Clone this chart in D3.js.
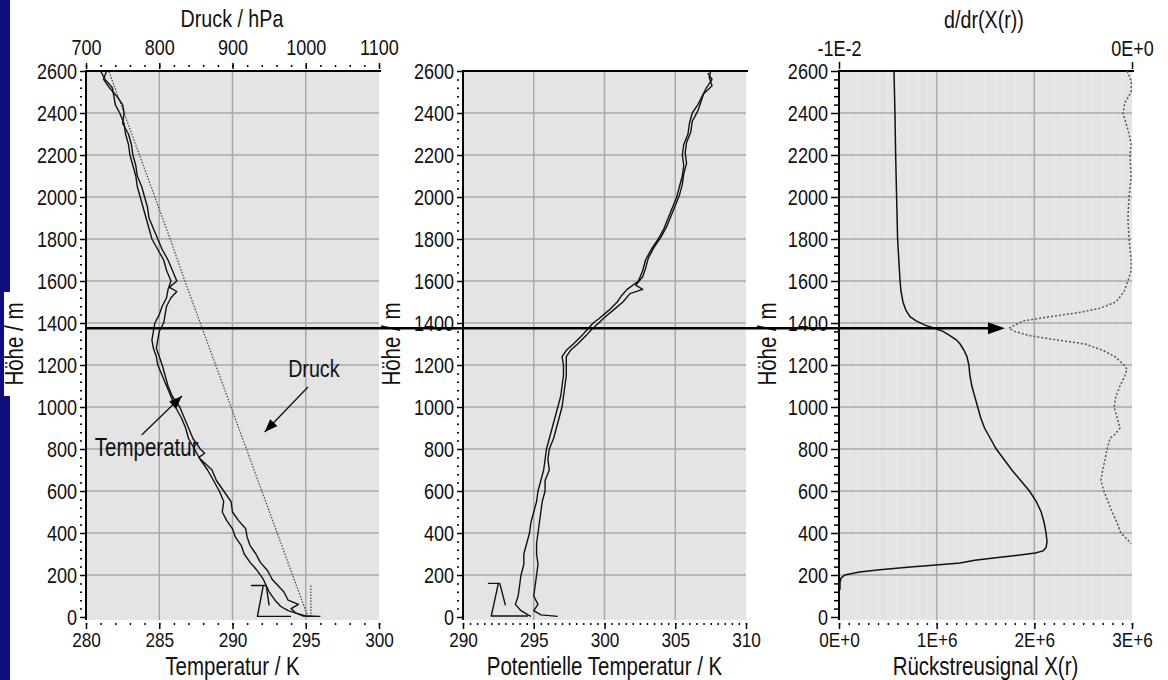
<!DOCTYPE html>
<html>
<head>
<meta charset="utf-8">
<script src="https://cdn.jsdelivr.net/npm/d3@7"></script>
<style>
  body { margin: 0; background: #fff; }
  svg text { font-family: "Liberation Sans", Arial, sans-serif; fill: #111; }
</style>
</head>
<body>
<svg id="chart" width="1168" height="680"></svg>
<script>
var heightTicks = [0, 200, 400, 600, 800, 1000, 1200, 1400, 1600, 1800, 2000, 2200, 2400, 2600];
var tempTicks = [280, 285, 290, 295, 300];
var pressureTicks = [700, 800, 900, 1000, 1100];
var thetaTicks = [290, 295, 300, 305, 310];
var signalTicks = [0, 1e6, 2e6, 3e6];
var signalTickLabels = ['0E+0', '1E+6', '2E+6', '3E+6'];
var derivTicks = [-0.01, 0];
var derivTickLabels = ['-1E-2', '0E+0'];

// [height m, temperature K]
var tempAscent = [
  [2600, 281.0], [2560, 281.3], [2520, 281.8], [2480, 281.9], [2440, 282.0], [2400, 282.3],
  [2350, 282.6], [2300, 282.7], [2250, 282.9], [2200, 283.0], [2150, 283.2], [2100, 283.4],
  [2050, 283.5], [2000, 283.7], [1950, 283.9], [1900, 284.1], [1850, 284.3], [1800, 284.5],
  [1750, 284.9], [1700, 285.3], [1650, 285.5], [1600, 285.8], [1560, 285.6], [1520, 285.5],
  [1480, 285.2], [1440, 285.0], [1400, 284.7], [1360, 284.6], [1320, 284.5], [1280, 284.6],
  [1240, 284.8], [1200, 284.9], [1150, 285.2], [1100, 285.5], [1050, 285.8], [1000, 286.1],
  [950, 286.5], [900, 286.8], [850, 287.0], [800, 287.4], [750, 287.8], [700, 288.3],
  [650, 288.7], [600, 289.1], [550, 289.4], [500, 289.3], [460, 289.6], [420, 290.0],
  [380, 290.2], [340, 290.6], [300, 290.8], [260, 291.2], [220, 291.7], [180, 292.1],
  [150, 292.3], [120, 292.5], [80, 292.9], [50, 293.3], [30, 293.8], [15, 294.5],
  [5, 295.0], [3, 295.5]
];
var tempDescent = [
  [2600, 281.4], [2560, 281.2], [2520, 281.6], [2480, 282.1], [2440, 282.5], [2400, 282.6],
  [2350, 282.5], [2300, 282.9], [2250, 283.1], [2200, 283.2], [2150, 283.4], [2100, 283.5],
  [2050, 283.8], [2000, 284.0], [1950, 284.2], [1900, 284.3], [1850, 284.6], [1800, 284.9],
  [1750, 285.2], [1700, 285.6], [1650, 285.9], [1600, 286.2], [1570, 285.7], [1550, 286.2],
  [1520, 285.8], [1480, 285.5], [1440, 285.4], [1400, 285.3], [1360, 285.0], [1320, 284.9],
  [1280, 284.8], [1240, 285.0], [1200, 285.2], [1150, 285.4], [1100, 285.6], [1050, 285.9],
  [1000, 286.4], [950, 286.7], [900, 287.0], [850, 287.3], [800, 287.8], [780, 288.1],
  [760, 287.7], [720, 288.3], [700, 288.6], [650, 288.9], [600, 289.4], [550, 289.9],
  [500, 290.0], [460, 290.4], [420, 290.9], [380, 291.0], [340, 291.2], [300, 291.6],
  [260, 291.9], [220, 292.4], [180, 292.7], [150, 293.1], [120, 293.5], [80, 293.8],
  [60, 294.5], [40, 294.0], [20, 294.3], [5, 294.8], [3, 296.0]
];
var tempGround = [[55, 292.5], [150, 292.3], [150, 291.3], [150, 292.1], [3, 291.7], [3, 294.0]];

// [height m, pressure hPa]
var pressure = [
  [0, 1003], [200, 982], [400, 961], [600, 940], [800, 919], [1000, 898], [1200, 877],
  [1400, 856], [1600, 835], [1800, 815], [2000, 794], [2200, 773], [2400, 752], [2600, 731]
];
var pressureGround = [[0, 1007], [150, 1007]];

// [height m, potential temperature K]
var thetaAscent = [
  [2590, 307.3], [2560, 307.6], [2520, 307.2], [2480, 306.9], [2440, 306.6], [2400, 306.2],
  [2350, 306.0], [2300, 305.9], [2250, 305.6], [2200, 305.5], [2150, 305.6], [2100, 305.5],
  [2050, 305.3], [2000, 305.1], [1950, 304.8], [1900, 304.5], [1850, 304.2], [1800, 303.8],
  [1750, 303.3], [1700, 302.9], [1650, 302.7], [1600, 302.4], [1560, 301.6], [1530, 301.2],
  [1500, 300.9], [1460, 300.3], [1420, 299.6], [1400, 299.2], [1370, 298.8], [1340, 298.4],
  [1300, 297.8], [1270, 297.3], [1240, 297.0], [1200, 297.1], [1150, 297.1], [1100, 297.0],
  [1050, 296.9], [1000, 296.7], [950, 296.5], [900, 296.3], [850, 296.1], [800, 295.9],
  [750, 295.8], [700, 295.7], [650, 295.5], [600, 295.3], [550, 295.2], [500, 295.0],
  [450, 294.8], [400, 294.7], [350, 294.5], [300, 294.3], [250, 294.3], [200, 294.1],
  [150, 294.0], [100, 293.9], [60, 293.7], [30, 294.1], [10, 294.6], [3, 294.8]
];
var thetaDescent = [
  [2600, 307.5], [2570, 307.4], [2530, 307.6], [2490, 307.0], [2450, 306.8], [2410, 306.6],
  [2360, 306.2], [2310, 306.1], [2260, 305.8], [2210, 305.7], [2160, 305.8], [2110, 305.6],
  [2060, 305.5], [2010, 305.3], [1960, 305.0], [1910, 304.7], [1860, 304.4], [1810, 304.0],
  [1760, 303.5], [1710, 303.1], [1660, 302.9], [1620, 302.7], [1580, 302.2], [1560, 302.7],
  [1540, 301.8], [1500, 301.3], [1460, 300.6], [1420, 299.9], [1400, 299.6], [1370, 299.1],
  [1340, 298.7], [1300, 298.1], [1270, 297.6], [1240, 297.3], [1200, 297.3], [1150, 297.3],
  [1100, 297.2], [1050, 297.1], [1000, 297.0], [950, 296.8], [900, 296.6], [850, 296.4],
  [800, 296.1], [750, 296.0], [700, 296.1], [650, 295.8], [600, 295.8], [550, 295.6],
  [500, 295.5], [450, 295.4], [400, 295.3], [350, 295.2], [300, 295.2], [250, 295.3],
  [200, 295.2], [150, 295.1], [100, 295.0], [60, 295.3], [30, 295.0], [10, 295.5], [3, 296.7]
];
var thetaGround = [[55, 293.0], [160, 292.6], [160, 291.8], [160, 292.5], [5, 292.0], [5, 294.6]];

// [height m, backscatter signal X(r)]
var signal = [
  [2600, 0.563e6], [2400, 0.573e6], [2200, 0.58e6], [2000, 0.59e6], [1800, 0.60e6],
  [1600, 0.625e6], [1550, 0.635e6], [1500, 0.655e6], [1460, 0.686e6], [1430, 0.727e6],
  [1410, 0.79e6], [1390, 0.88e6], [1375, 0.98e6], [1360, 1.065e6], [1340, 1.136e6],
  [1320, 1.20e6], [1300, 1.24e6], [1270, 1.28e6], [1240, 1.31e6], [1200, 1.33e6],
  [1150, 1.34e6], [1100, 1.36e6], [1050, 1.39e6], [1000, 1.42e6], [950, 1.45e6],
  [900, 1.49e6], [850, 1.55e6], [800, 1.61e6], [750, 1.69e6], [700, 1.77e6],
  [650, 1.86e6], [600, 1.95e6], [550, 2.02e6], [500, 2.07e6], [450, 2.10e6],
  [400, 2.12e6], [360, 2.13e6], [330, 2.12e6], [315, 2.09e6], [305, 2.01e6],
  [295, 1.85e6], [285, 1.65e6], [270, 1.39e6], [257, 1.24e6], [245, 0.93e6],
  [238, 0.73e6], [225, 0.42e6], [214, 0.21e6], [205, 0.11e6], [200, 0.06e6],
  [185, 0.02e6], [162, 0.01e6], [130, 0.01e6]
];
// [height m, d/dr X(r)]
var signalDeriv = [
  [2600, -0.00017], [2550, -0.00002], [2500, -0.00003], [2450, -0.00024], [2400, -0.00031],
  [2350, -0.0002], [2300, -0.0001], [2250, -0.00003], [2200, -0.00007], [2100, -0.00003],
  [2000, -0.0001], [1900, -0.00014], [1800, -0.0001], [1700, -0.00003], [1650, -0.00003],
  [1600, -0.00014], [1550, -0.00027], [1500, -0.00055], [1470, -0.0011], [1450, -0.0018],
  [1430, -0.0028], [1410, -0.0037], [1390, -0.0040], [1375, -0.0042], [1360, -0.0040],
  [1340, -0.0035], [1320, -0.0026], [1300, -0.0016], [1270, -0.0010], [1240, -0.00058],
  [1200, -0.00027], [1180, -0.00017], [1150, -0.00024], [1100, -0.00041], [1050, -0.00055],
  [1000, -0.00061], [950, -0.00051], [900, -0.00041], [870, -0.00058], [850, -0.00075],
  [800, -0.00085], [750, -0.00092], [700, -0.0010], [650, -0.00106], [600, -0.00096],
  [550, -0.00082], [500, -0.00068], [450, -0.00051], [400, -0.00038], [370, -0.00017],
  [350, -0.00003]
];
var inversionHeight = 1375;
var inversionDeriv = -0.0042;

// the original lettering is a narrow Helvetica; squeeze Liberation Sans to match
var NARROW = 0.82;

var svg = d3.select('#chart');
var y = d3.scaleLinear().domain([0, 2600]).range([617, 71]);
var plotTop = y(2600);
var plotBottom = y(0) + 3;

var tempX = d3.scaleLinear().domain([280, 300]).range([86, 379]);
var pressX = d3.scaleLinear().domain([700, 1100]).range([86, 379]);
var thetaX = d3.scaleLinear().domain([290, 310]).range([463, 746]);
var signalX = d3.scaleLinear().domain([0, 3e6]).range([839, 1132]);
var derivX = d3.scaleLinear().domain([-0.01, 0]).range([839, 1132]);

// blue slide edge
svg.append('rect').attr('x', 0).attr('y', 0).attr('width', 10).attr('height', 680)
    .attr('fill', '#0e0e7e');
svg.append('rect').attr('x', 4).attr('y', 292).attr('width', 6).attr('height', 104)
    .attr('fill', '#fff');

function condense(sel) {
  sel.each(function() {
    var t = d3.select(this);
    var tx = +t.attr('x') || 0;
    var prev = t.attr('transform') || '';
    t.attr('x', tx / NARROW).attr('transform', prev + ' scale(' + NARROW + ',1)');
  });
}

function styleAxis(sel, size) {
  sel.attr('font-family', null).attr('font-size', null);
  sel.select('.domain').remove();
  sel.selectAll('.tick line').attr('stroke', '#000').attr('stroke-width', 1.5);
  sel.selectAll('.tick text').attr('fill', '#111').style('font-size', size + 'px');
  condense(sel.selectAll('.tick text'));
}

function drawPanel(x, opts) {
  var x0 = x.range()[0], x1 = x.range()[1];
  var g = svg.append('g');
  g.append('rect')
      .attr('x', x0).attr('y', plotTop)
      .attr('width', x1 - x0).attr('height', plotBottom - plotTop)
      .attr('fill', '#e4e4e4');

  if (opts.stripes) {
    g.selectAll('.stripe').data(opts.stripes).enter().append('line')
        .attr('x1', function(d) { return x(d); })
        .attr('x2', function(d) { return x(d); })
        .attr('y1', plotTop).attr('y2', plotBottom)
        .attr('stroke', '#e9e9e9').attr('stroke-width', 1);
  }

  g.selectAll('.hgrid').data(heightTicks.slice(1, -1)).enter().append('line')
      .attr('x1', x0).attr('x2', x1)
      .attr('y1', function(d) { return y(d); })
      .attr('y2', function(d) { return y(d); })
      .attr('stroke', '#a9a9a9').attr('stroke-width', 1.5);
  g.selectAll('.vgrid').data(opts.grid).enter().append('line')
      .attr('x1', function(d) { return x(d); })
      .attr('x2', function(d) { return x(d); })
      .attr('y1', plotTop).attr('y2', plotBottom)
      .attr('stroke', '#a9a9a9').attr('stroke-width', 1.5);

  // left height axis
  var minorHeights = d3.range(0, 2601, 40).filter(function(d) { return d % 200 !== 0; });
  var major = g.append('g').attr('transform', 'translate(' + x0 + ',0)')
      .call(d3.axisLeft(y).tickValues(heightTicks).tickSize(opts.majorLen).tickPadding(3)
          .tickFormat(d3.format('d')));
  styleAxis(major, 22);
  var minor = g.append('g').attr('transform', 'translate(' + (x0 - opts.minorGap) + ',0)')
      .call(d3.axisLeft(y).tickValues(minorHeights).tickSize(opts.minorLen).tickFormat(''));
  styleAxis(minor, 22);
  g.append('line').attr('x1', x0).attr('x2', x0).attr('y1', plotTop - 1).attr('y2', plotBottom)
      .attr('stroke', '#000').attr('stroke-width', 2);

  // top border
  g.append('line').attr('x1', x0).attr('x2', x1 + 2).attr('y1', plotTop).attr('y2', plotTop)
      .attr('stroke', '#000').attr('stroke-width', 2);

  // bottom axis
  var bottom = g.append('g').attr('transform', 'translate(0,' + (plotBottom + 3) + ')')
      .call(d3.axisBottom(x).tickValues(opts.ticks).tickSize(6).tickPadding(3)
          .tickFormat(opts.tickFormat || d3.format('d')));
  styleAxis(bottom, 21);
  var bottomMinor = g.append('g').attr('transform', 'translate(0,' + (plotBottom + 3) + ')')
      .call(d3.axisBottom(x).tickValues(opts.minorTicks).tickSize(2).tickFormat(''));
  styleAxis(bottomMinor, 21);

  g.append('text')
      .attr('transform', 'translate(' + (x0 - 63) + ',344) rotate(-90)')
      .attr('text-anchor', 'middle').style('font-size', '25px')
      .text('Höhe / m')
      .call(condense);
  g.append('text')
      .attr('x', (x0 + x1) / 2).attr('y', 675)
      .attr('text-anchor', 'middle').style('font-size', '25px')
      .text(opts.title)
      .call(condense);
  return g;
}

function profile(x) {
  return d3.line()
      .x(function(d) { return x(d[1]); })
      .y(function(d) { return y(d[0]); });
}

function arrowHead(g, xa, ya, xb, yb, len, half) {
  var ang = Math.atan2(yb - ya, xb - xa);
  var c = Math.cos(ang), s = Math.sin(ang);
  var pts = [
    [xb, yb],
    [xb - len * c + half * s, yb - len * s - half * c],
    [xb - len * c - half * s, yb - len * s + half * c]
  ];
  g.append('polygon').attr('points', pts.map(function(p) { return p.join(','); }).join(' '))
      .attr('fill', '#000');
}

// ---- panel 1: temperature and pressure
var p1 = drawPanel(tempX, {
  grid: [285, 290, 295],
  ticks: tempTicks,
  minorTicks: d3.range(280, 300.01, 1),
  majorLen: 6, minorLen: 2, minorGap: 4,
  title: 'Temperatur / K'
});
var top1 = p1.append('g').attr('transform', 'translate(0,' + (plotTop - 2) + ')')
    .call(d3.axisTop(pressX).tickValues(pressureTicks).tickSize(6).tickPadding(8)
        .tickFormat(d3.format('d')));
styleAxis(top1, 22);
var top1Minor = p1.append('g').attr('transform', 'translate(0,' + (plotTop - 4) + ')')
    .call(d3.axisTop(pressX).tickValues(d3.range(700, 1100.1, 20)).tickSize(2).tickFormat(''));
styleAxis(top1Minor, 22);
p1.append('text').attr('x', 232).attr('y', 27).attr('text-anchor', 'middle')
    .style('font-size', '24px').text('Druck / hPa').call(condense);

var pressLine = d3.line()
    .x(function(d) { return pressX(d[1]); })
    .y(function(d) { return y(d[0]); });
[pressure, pressureGround].forEach(function(s) {
  p1.append('path').datum(s).attr('d', pressLine).attr('fill', 'none')
      .attr('stroke', '#444').attr('stroke-width', 1.2).attr('stroke-dasharray', '1.5,1.5');
});
[tempAscent, tempDescent, tempGround].forEach(function(s) {
  p1.append('path').datum(s).attr('d', profile(tempX)).attr('fill', 'none')
      .attr('stroke', '#111').attr('stroke-width', 1.4).attr('stroke-linejoin', 'round');
});

// annotations
p1.append('text').attr('x', tempX(293.8)).attr('y', y(1143)).style('font-size', '24px')
    .text('Druck').call(condense);
p1.append('line').attr('x1', tempX(295.15)).attr('y1', y(1095)).attr('x2', tempX(292.2)).attr('y2', y(881))
    .attr('stroke', '#111').attr('stroke-width', 1.3);
arrowHead(p1, tempX(295.15), y(1095), tempX(292.2), y(881), 13, 5);
p1.append('text').attr('x', tempX(280.6)).attr('y', y(767)).style('font-size', '25px')
    .text('Temperatur').call(condense);
p1.append('line').attr('x1', tempX(283.8)).attr('y1', y(867)).attr('x2', tempX(286.55)).attr('y2', y(1052))
    .attr('stroke', '#111').attr('stroke-width', 1.3);
arrowHead(p1, tempX(283.8), y(867), tempX(286.55), y(1052), 13, 5);

// ---- panel 2: potential temperature
var p2 = drawPanel(thetaX, {
  grid: [295, 300, 305],
  ticks: thetaTicks,
  minorTicks: d3.range(290, 310.01, 0.5),
  majorLen: 6, minorLen: 2, minorGap: 4,
  title: 'Potentielle Temperatur / K'
});
[thetaAscent, thetaDescent, thetaGround].forEach(function(s) {
  p2.append('path').datum(s).attr('d', profile(thetaX)).attr('fill', 'none')
      .attr('stroke', '#111').attr('stroke-width', 1.4).attr('stroke-linejoin', 'round');
});

// ---- panel 3: backscatter signal
var p3 = drawPanel(signalX, {
  grid: [1e6, 2e6],
  stripes: d3.range(1e5, 3e6, 1e5),
  ticks: signalTicks,
  minorTicks: d3.range(0, 3e6 + 1, 1e5),
  tickFormat: function(d, i) { return signalTickLabels[i]; },
  majorLen: 8, minorLen: 5, minorGap: 0,
  title: 'Rückstreusignal X(r)'
});
var top3 = p3.append('g').attr('transform', 'translate(0,' + (plotTop - 2) + ')')
    .call(d3.axisTop(derivX).tickValues(derivTicks).tickSize(7).tickPadding(6)
        .tickFormat(function(d, i) { return derivTickLabels[i]; }));
styleAxis(top3, 22);
p3.append('text').attr('x', 984).attr('y', 28).attr('text-anchor', 'middle')
    .style('font-size', '24px').text('d/dr(X(r))').call(condense);

p3.append('path').datum(signal).attr('d', profile(signalX)).attr('fill', 'none')
    .attr('stroke', '#111').attr('stroke-width', 1.5);
p3.append('path').datum(signalDeriv)
    .attr('d', d3.line().x(function(d) { return derivX(d[1]); }).y(function(d) { return y(d[0]); }))
    .attr('fill', 'none').attr('stroke', '#555').attr('stroke-width', 1.5)
    .attr('stroke-dasharray', '2,2');

// inversion marker arrow across all panels
var tipX = derivX(inversionDeriv) - 4;
svg.append('line').attr('x1', tempX(280)).attr('x2', tipX - 12)
    .attr('y1', y(inversionHeight)).attr('y2', y(inversionHeight))
    .attr('stroke', '#000').attr('stroke-width', 2.5);
arrowHead(svg, tipX - 20, y(inversionHeight), tipX, y(inversionHeight), 17, 6);
</script>
</body>
</html>
